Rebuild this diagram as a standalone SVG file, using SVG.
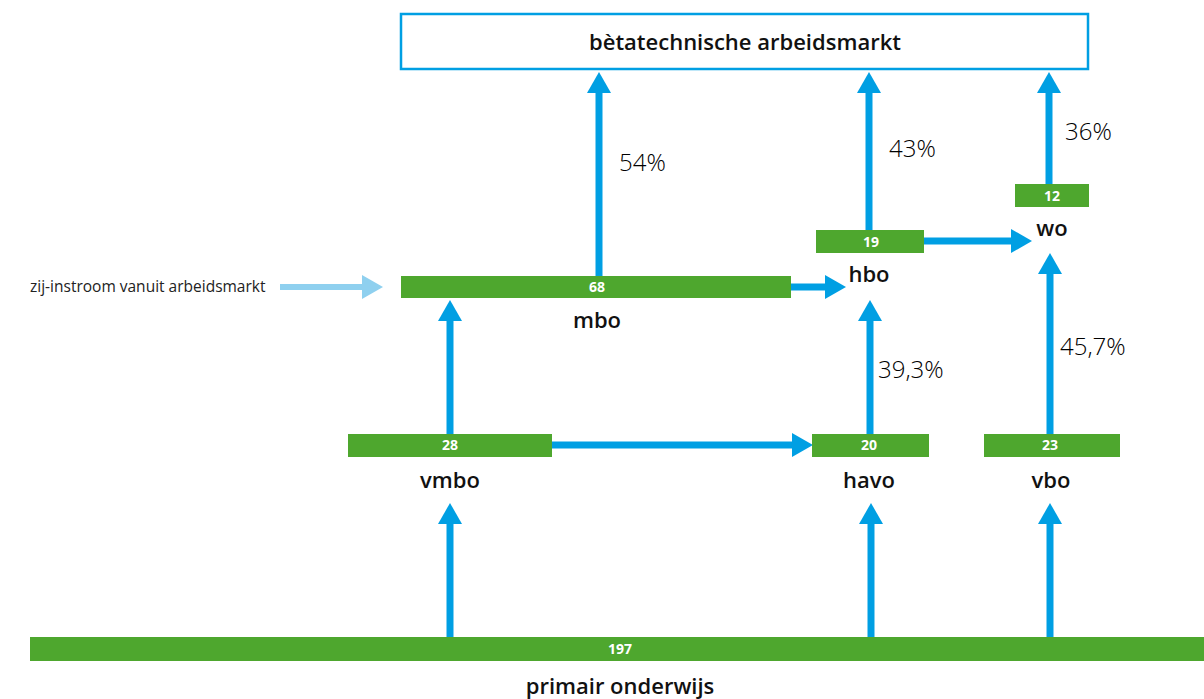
<svg xmlns="http://www.w3.org/2000/svg" width="1204" height="699" viewBox="0 0 1204 699">
  <style>
    .bar { fill: #4ea72e; }
    .num { font-family: "Open Sans", "Noto Sans", sans-serif; font-weight: 700; font-size: 14px; fill: #ffffff; text-anchor: middle; }
    .lbl { font-family: "Open Sans", "Noto Sans", sans-serif; font-weight: 600; font-size: 22px; fill: #111111; text-anchor: middle; }
    .pct { font-family: "Open Sans", "Noto Sans", sans-serif; font-weight: 300; font-size: 24px; fill: #000000; }
    .flow { stroke: #009fe3; stroke-width: 7; fill: none; marker-end: url(#head); }
    .side { stroke: #8fd0ef; stroke-width: 6; fill: none; marker-end: url(#headLight); }
    .note { font-family: "Open Sans", "Noto Sans", sans-serif; font-size: 15.5px; fill: #222222; }
  </style>
  <defs>
    <marker id="head" markerUnits="userSpaceOnUse" markerWidth="22" markerHeight="26" refX="0" refY="12" orient="auto" viewBox="0 0 22 24">
      <path d="M0,0 L21,12 L0,24 z" fill="#009fe3"/>
    </marker>
    <marker id="headLight" markerUnits="userSpaceOnUse" markerWidth="22" markerHeight="26" refX="0" refY="12" orient="auto" viewBox="0 0 22 24">
      <path d="M0,0 L21,12 L0,24 z" fill="#8fd0ef"/>
    </marker>
  </defs>

  <!-- connectors -->
  <g id="connectors">
    <line class="flow" x1="599" y1="276" x2="599" y2="93"/>
    <line class="flow" x1="869" y1="231" x2="869" y2="93"/>
    <line class="flow" x1="1049" y1="185" x2="1049" y2="93"/>
    <line class="flow" x1="791" y1="287" x2="825" y2="287"/>
    <line class="flow" x1="924" y1="241" x2="1011" y2="241"/>
    <line class="flow" x1="552" y1="445" x2="792" y2="445"/>
    <line class="flow" x1="450" y1="434" x2="450" y2="321"/>
    <line class="flow" x1="870" y1="434" x2="870" y2="321"/>
    <line class="flow" x1="1050" y1="434" x2="1050" y2="274"/>
    <line class="flow" x1="450" y1="637" x2="450" y2="524"/>
    <line class="flow" x1="871" y1="637" x2="871" y2="524"/>
    <line class="flow" x1="1050" y1="637" x2="1050" y2="524"/>
    <line class="side" x1="280" y1="287" x2="362" y2="287"/>
  </g>

  <!-- percentages along the flows -->
  <g id="rates">
    <text class="pct" x="619" y="171">54%</text>
    <text class="pct" x="889" y="157">43%</text>
    <text class="pct" x="1065" y="140">36%</text>
    <text class="pct" x="878" y="378">39,3%</text>
    <text class="pct" x="1060" y="355">45,7%</text>
  </g>

  <g id="arbeidsmarkt">
    <rect x="401" y="14" width="687" height="55" fill="#ffffff" stroke="#009fe3" stroke-width="2.5"/>
    <text class="lbl" x="745" y="50">bètatechnische arbeidsmarkt</text>
  </g>

  <g id="zij-instroom">
    <text class="note" x="30" y="292">zij-instroom vanuit arbeidsmarkt</text>
  </g>

  <g id="mbo">
    <rect class="bar" x="401" y="276" width="390" height="22"/>
    <text class="num" x="597" y="292">68</text>
    <text class="lbl" x="597" y="328">mbo</text>
  </g>

  <g id="hbo">
    <rect class="bar" x="816" y="230" width="108" height="23"/>
    <text class="num" x="871" y="247">19</text>
    <text class="lbl" x="869" y="282">hbo</text>
  </g>

  <g id="wo">
    <rect class="bar" x="1015" y="184" width="74" height="23"/>
    <text class="num" x="1052" y="201">12</text>
    <text class="lbl" x="1052" y="236">wo</text>
  </g>

  <g id="vmbo">
    <rect class="bar" x="348" y="434" width="204" height="23"/>
    <text class="num" x="450" y="450">28</text>
    <text class="lbl" x="450" y="488">vmbo</text>
  </g>

  <g id="havo">
    <rect class="bar" x="812" y="434" width="117" height="23"/>
    <text class="num" x="869" y="450">20</text>
    <text class="lbl" x="869" y="488">havo</text>
  </g>

  <g id="vbo">
    <rect class="bar" x="984" y="434" width="136" height="23"/>
    <text class="num" x="1050" y="450">23</text>
    <text class="lbl" x="1051" y="488">vbo</text>
  </g>

  <g id="primair-onderwijs">
    <rect class="bar" x="30" y="637" width="1174" height="24"/>
    <text class="num" x="620" y="654">197</text>
    <text class="lbl" x="620" y="694">primair onderwijs</text>
  </g>
</svg>
